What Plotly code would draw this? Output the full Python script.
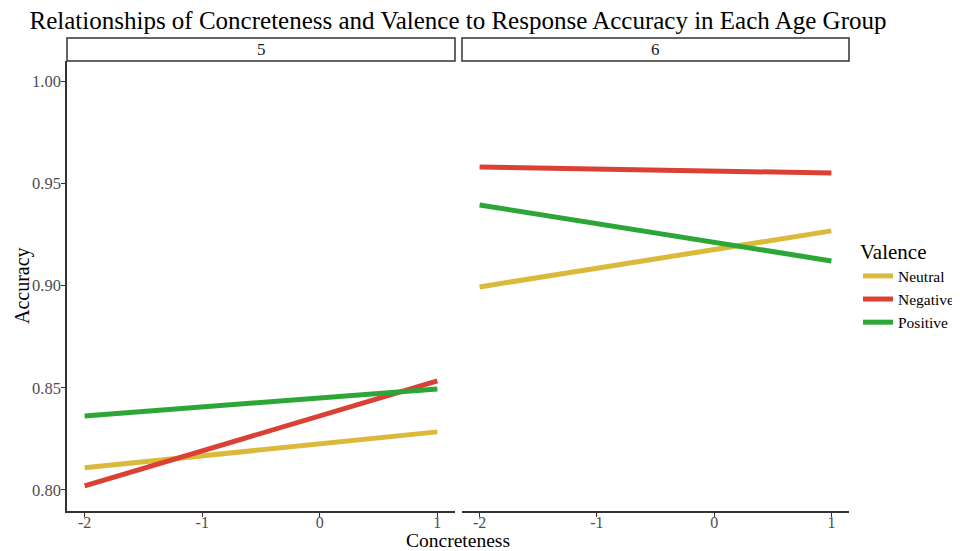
import plotly.graph_objects as go

concreteness = [-2, 1]
valences = ["Neutral", "Negative", "Positive"]
colors = {"Neutral": "#DBB93B", "Negative": "#DB4035", "Positive": "#2DA638"}
age_groups = ["5", "6"]
acc_age5 = {
    "Neutral": [0.8108, 0.8284],
    "Negative": [0.8020, 0.8533],
    "Positive": [0.8362, 0.8494],
}
acc_age6 = {
    "Neutral": [0.8993, 0.9267],
    "Negative": [0.9579, 0.9550],
    "Positive": [0.9394, 0.9120],
}
y_ticks = [0.80, 0.85, 0.90, 0.95, 1.00]
x_ticks = [-2, -1, 0, 1]

FONT = "Liberation Serif"
fig = go.Figure()
for v in valences:
    fig.add_trace(go.Scatter(x=concreteness, y=acc_age5[v], mode="lines", name=v,
                             line=dict(color=colors[v], width=5), xaxis="x", yaxis="y",
                             legendgroup=v, showlegend=True))
for v in valences:
    fig.add_trace(go.Scatter(x=concreteness, y=acc_age6[v], mode="lines", name=v,
                             line=dict(color=colors[v], width=5), xaxis="x2", yaxis="y2",
                             legendgroup=v, showlegend=False))

# page body has an 8px default margin; work in figure coords = screen coords - 8
OFF = 8
W, H = 960 - OFF, 551 - OFF
ml = 67 - OFF
mt = 61 - OFF
mr = W - (849 - OFF)
mb = H - (511 - OFF)
pw = W - ml - mr
ph = H - mt - mb
d1 = (0, (455 - 67) / pw)
d2 = ((462 - 67) / pw, 1)

axis_common = dict(range=[-2.15, 1.15], tickvals=x_ticks, ticktext=[str(t) for t in x_ticks],
                   showgrid=False, zeroline=False, showline=True, linecolor="#333333", linewidth=1.5,
                   ticks="outside", ticklen=4, tickcolor="#333333", automargin=False,
                   ticklabelstandoff=-8,
                   tickfont=dict(family=FONT, size=16, color="#4D4D4D"))
yaxis_common = dict(range=[0.7897, 1.0098], tickvals=y_ticks, showgrid=False, zeroline=False,
                    automargin=False)

fig.update_layout(
    width=W, height=H,
    margin=dict(l=ml, r=mr, t=mt, b=mb, autoexpand=False),
    plot_bgcolor="white", paper_bgcolor="white",
    font=dict(family=FONT, color="black"),
    title=dict(text="Relationships of Concreteness and Valence to Response Accuracy in Each Age Group",
               x=0.5, xref="paper", y=1 - (20 - OFF) / H, yref="container", yanchor="middle",
               xanchor="center", font=dict(family=FONT, size=25, color="black")),
    xaxis=dict(domain=d1, anchor="y", **axis_common),
    xaxis2=dict(domain=d2, anchor="y2", **axis_common),
    yaxis=dict(domain=[0, 1], anchor="x", showline=True, linecolor="#333333", linewidth=1.5,
               ticks="outside", ticklen=4, tickcolor="#333333", tickformat=".2f",
               ticklabelstandoff=-3,
               tickfont=dict(family=FONT, size=16.5, color="#4D4D4D"), **yaxis_common),
    yaxis2=dict(domain=[0, 1], anchor="x2", showline=False, showticklabels=False, ticks="",
                **yaxis_common),
    legend=dict(xref="container", yref="container", x=(858 - OFF) / W, y=1 - (232 - OFF) / H,
                xanchor="left", yanchor="top",
                title=dict(text="Valence", font=dict(family=FONT, size=21)),
                font=dict(family=FONT, size=15.5), tracegroupgap=0, itemwidth=30,
                bgcolor="rgba(0,0,0,0)"),
    showlegend=True,
)

strip_top = 1 + 23 / ph
for dom, label in zip([d1, d2], age_groups):
    fig.add_shape(type="rect", xref="paper", yref="paper", x0=dom[0], x1=dom[1], y0=1, y1=strip_top,
                  line=dict(color="#333333", width=1.5), fillcolor="white")
    fig.add_annotation(x=(dom[0] + dom[1]) / 2, y=(1 + strip_top) / 2, xref="paper", yref="paper",
                       text=label, showarrow=False, xanchor="center", yanchor="middle",
                       font=dict(family=FONT, size=17, color="#1A1A1A"))

fig.add_annotation(x=0.5, y=-(540 - 511) / ph, xref="paper", yref="paper", text="Concreteness",
                   showarrow=False, xanchor="center", yanchor="middle",
                   font=dict(family=FONT, size=19.5, color="black"))
fig.add_annotation(x=-(67 - 22) / pw, y=0.5, xref="paper", yref="paper", text="Accuracy",
                   showarrow=False, xanchor="center", yanchor="middle", textangle=-90,
                   font=dict(family=FONT, size=20, color="black"))

fig.write_html("out.html")
